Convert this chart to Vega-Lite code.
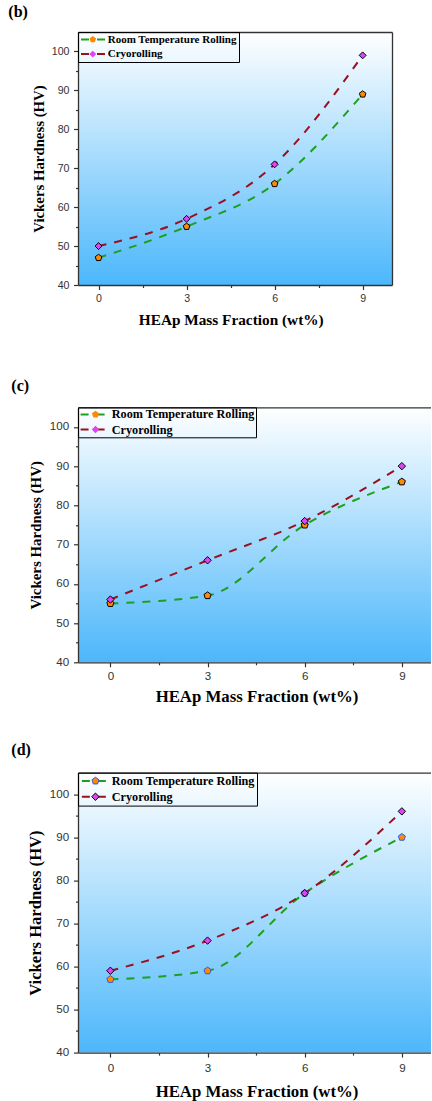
{
 "$schema": "https://vega.github.io/schema/vega-lite/v6.json",
 "background": "white",
 "padding": {"left": 8, "top": 3, "right": 0, "bottom": 2},
 "columns": 1,
 "spacing": 35.3,
 "resolve": {"scale": {"color": "independent", "fill": "independent", "shape": "independent", "stroke": "independent"}, "legend": {"color": "independent", "fill": "independent", "shape": "independent", "stroke": "independent"}},
 "config": {
  "view": {"stroke": null, "fill": {"gradient": "linear", "x1": 0, "y1": 0, "x2": 0, "y2": 1, "stops": [{"offset": 0, "color": "#ffffff"}, {"offset": 1, "color": "#4cb7fb"}]}},
  "axis": {"grid": false, "domainColor": "#333333", "domainWidth": 1.3, "tickColor": "#333333", "tickWidth": 1.2, "labelColor": "#333333", "labelFont": "Liberation Sans", "titleFont": "Liberation Serif", "titleFontWeight": "bold", "titleColor": "black", "labelOverlap": false, "labelFlush": false},
  "legend": {"labelFont": "Liberation Serif", "labelFontWeight": "bold", "labelColor": "black", "labelLimit": 400},
  "title": {"font": "Liberation Serif", "fontWeight": "bold", "color": "black", "fontSize": 16, "anchor": "start", "frame": "group"}
 },
 "concat": [
  {
   "width": 314, "height": 253,
   "title": {"text": "(b)", "dx": -69.7, "offset": 12},
   "data": {"values": [
    {"x": 0, "hv": 47, "series": "Room Temperature Rolling"},
    {"x": 3, "hv": 55, "series": "Room Temperature Rolling"},
    {"x": 6, "hv": 66, "series": "Room Temperature Rolling"},
    {"x": 9, "hv": 89, "series": "Room Temperature Rolling"},
    {"x": 0, "hv": 50, "series": "Cryorolling"},
    {"x": 3, "hv": 57, "series": "Cryorolling"},
    {"x": 6, "hv": 71, "series": "Cryorolling"},
    {"x": 9, "hv": 99, "series": "Cryorolling"}
   ]},
   "resolve": {"axis": {"x": "independent", "y": "independent"}},
   "layer": [
    {
     "mark": {"type": "line", "interpolate": "monotone", "strokeWidth": 2, "strokeDash": [8, 8]},
     "encoding": {
      "x": {"field": "x", "type": "quantitative", "scale": {"domain": [-0.7, 10], "nice": false, "zero": false},
       "axis": {"values": [0, 1.5, 3, 4.5, 6, 7.5, 9], "labelExpr": "datum.value % 3 === 0 ? datum.label : ''", "tickSize": {"condition": {"test": "datum.value % 3 !== 0", "value": 2.5}, "value": 4.5}, "labelFontSize": 10.6, "labelPadding": 4.2, "title": "HEAp Mass Fraction (wt%)", "titleFontSize": 15.3, "titlePadding": 8.4, "titleX": 152.7}},
      "y": {"field": "hv", "type": "quantitative", "scale": {"domain": [40, 105], "nice": false, "zero": false},
       "axis": {"values": [40, 45, 50, 55, 60, 65, 70, 75, 80, 85, 90, 95, 100], "labelExpr": "datum.value % 10 === 0 ? datum.label : ''", "tickSize": {"condition": {"test": "datum.value % 10 !== 0", "value": 2.5}, "value": 4.5}, "labelFontSize": 10.6, "labelPadding": 4.5, "title": "Vickers Hardness (HV)", "titleFontSize": 14.8, "titlePadding": 5}},
      "color": {"field": "series", "type": "nominal", "scale": {"domain": ["Room Temperature Rolling", "Cryorolling"], "range": ["#1ea01e", "#9a1020"]},
       "legend": {"orient": "none", "legendX": 0, "legendY": 0, "title": null, "symbolType": "M-1,0H4.6", "symbolSize": 81, "symbolStrokeWidth": 2, "symbolDash": [8, 8], "labelFontSize": 11, "padding": 2, "rowPadding": 2.6, "labelOffset": 16.7, "strokeColor": "black"}}
     }
    },
    {
     "mark": {"type": "point", "filled": true, "opacity": 1, "size": 48, "stroke": "black", "strokeWidth": 1},
     "encoding": {
      "x": {"field": "x", "type": "quantitative", "axis": {"orient": "top", "labels": false, "ticks": false, "title": null}},
      "y": {"field": "hv", "type": "quantitative", "axis": {"orient": "right", "labels": false, "ticks": false, "title": null}},
      "fill": {"field": "series", "type": "nominal", "sort": "descending", "scale": {"range": ["#ff8a00", "#dd44f5"]}, "legend": null},
      "shape": {"field": "series", "type": "nominal", "sort": "descending", "scale": {"range": ["M0,-1L0.951,-0.309L0.588,0.809L-0.588,0.809L-0.951,-0.309Z", "diamond"]},
       "legend": {"orient": "none", "legendX": 7.3, "legendY": 0, "title": null, "symbolSize": 48, "symbolStrokeColor": "black", "symbolStrokeWidth": 1, "labelExpr": "''", "labelFontSize": 11, "padding": 2, "rowPadding": 2.6,
        "encode": {"symbols": {"update": {"fill": {"signal": "datum.value === 'Cryorolling' ? '#dd44f5' : '#ff8a00'"}, "stroke": {"value": "black"}, "strokeWidth": {"value": 1}, "opacity": {"value": 1}, "size": {"value": 48}}}}}}
     }
    }
   ]
  },
  {
   "width": 353, "height": 255,
   "title": {"text": ["", "(c)"], "lineHeight": 14.2, "dx": -66.7, "offset": 13},
   "data": {"values": [
    {"x": 0, "hv": 55, "series": "Room Temperature Rolling"},
    {"x": 3, "hv": 57, "series": "Room Temperature Rolling"},
    {"x": 6, "hv": 75, "series": "Room Temperature Rolling"},
    {"x": 9, "hv": 86, "series": "Room Temperature Rolling"},
    {"x": 0, "hv": 56, "series": "Cryorolling"},
    {"x": 3, "hv": 66, "series": "Cryorolling"},
    {"x": 6, "hv": 76, "series": "Cryorolling"},
    {"x": 9, "hv": 90, "series": "Cryorolling"}
   ]},
   "resolve": {"axis": {"x": "independent", "y": "independent"}},
   "layer": [
    {
     "mark": {"type": "line", "interpolate": "monotone", "strokeWidth": 2, "strokeDash": [8, 8]},
     "encoding": {
      "x": {"field": "x", "type": "quantitative", "scale": {"domain": [-1, 9.9], "nice": false, "zero": false},
       "axis": {"values": [0, 1.5, 3, 4.5, 6, 7.5, 9], "labelExpr": "datum.value % 3 === 0 ? datum.label : ''", "tickSize": {"condition": {"test": "datum.value % 3 !== 0", "value": 2.5}, "value": 4.5}, "labelFontSize": 11.6, "labelPadding": 3.2, "title": "HEAp Mass Fraction (wt%)", "titleFontSize": 16.8, "titlePadding": 6.7, "titleX": 178.5}},
      "y": {"field": "hv", "type": "quantitative", "scale": {"domain": [40, 105], "nice": false, "zero": false},
       "axis": {"values": [40, 45, 50, 55, 60, 65, 70, 75, 80, 85, 90, 95, 100], "labelExpr": "datum.value % 10 === 0 ? datum.label : ''", "tickSize": {"condition": {"test": "datum.value % 10 !== 0", "value": 2.5}, "value": 4.5}, "labelFontSize": 11.6, "labelPadding": 4.9, "title": "Vickers Hardness (HV)", "titleFontSize": 14.9, "titlePadding": 5.5}},
      "color": {"field": "series", "type": "nominal", "scale": {"domain": ["Room Temperature Rolling", "Cryorolling"], "range": ["#1ea01e", "#9a1020"]},
       "legend": {"orient": "none", "legendX": 0, "legendY": 0, "title": null, "symbolType": "M-1,0H5", "symbolSize": 81, "symbolStrokeWidth": 2, "symbolDash": [8, 8], "labelFontSize": 12.2, "padding": 1, "rowPadding": 2.1, "labelOffset": 20.6, "strokeColor": "black"}}
     }
    },
    {
     "mark": {"type": "point", "filled": true, "opacity": 1, "size": 55, "stroke": "black", "strokeWidth": 1},
     "encoding": {
      "x": {"field": "x", "type": "quantitative", "axis": {"orient": "top", "labels": false, "ticks": false, "title": null}},
      "y": {"field": "hv", "type": "quantitative", "axis": null},
      "fill": {"field": "series", "type": "nominal", "sort": "descending", "scale": {"range": ["#ff8a00", "#dd44f5"]}, "legend": null},
      "shape": {"field": "series", "type": "nominal", "sort": "descending", "scale": {"range": ["M0,-1L0.951,-0.309L0.588,0.809L-0.588,0.809L-0.951,-0.309Z", "diamond"]},
       "legend": {"orient": "none", "legendX": 10.4, "legendY": 0, "title": null, "symbolSize": 55, "symbolStrokeColor": "black", "symbolStrokeWidth": 1, "labelExpr": "''", "labelFontSize": 12.2, "padding": 1, "rowPadding": 2.1,
        "encode": {"symbols": {"update": {"fill": {"signal": "datum.value === 'Cryorolling' ? '#dd44f5' : '#ff8a00'"}, "stroke": {"value": "black"}, "strokeWidth": {"value": 1}, "opacity": {"value": 1}, "size": {"value": 55}}}}}}
     }
    }
   ]
  },
  {
   "width": 353, "height": 280,
   "title": {"text": "(d)", "dx": -66.7, "offset": 14.6},
   "data": {"values": [
    {"x": 0, "hv": 57, "series": "Room Temperature Rolling"},
    {"x": 3, "hv": 59, "series": "Room Temperature Rolling"},
    {"x": 6, "hv": 77, "series": "Room Temperature Rolling"},
    {"x": 9, "hv": 90, "series": "Room Temperature Rolling"},
    {"x": 0, "hv": 59, "series": "Cryorolling"},
    {"x": 3, "hv": 66, "series": "Cryorolling"},
    {"x": 6, "hv": 77, "series": "Cryorolling"},
    {"x": 9, "hv": 96, "series": "Cryorolling"}
   ]},
   "resolve": {"axis": {"x": "independent", "y": "independent"}},
   "layer": [
    {
     "mark": {"type": "line", "interpolate": "monotone", "strokeWidth": 2, "strokeDash": [8, 8]},
     "encoding": {
      "x": {"field": "x", "type": "quantitative", "scale": {"domain": [-1, 9.9], "nice": false, "zero": false},
       "axis": {"values": [0, 1.5, 3, 4.5, 6, 7.5, 9], "labelExpr": "datum.value % 3 === 0 ? datum.label : ''", "tickSize": {"condition": {"test": "datum.value % 3 !== 0", "value": 2.5}, "value": 4.5}, "labelFontSize": 11.6, "labelPadding": 5.4, "title": "HEAp Mass Fraction (wt%)", "titleFontSize": 16.8, "titlePadding": 9.2, "titleX": 178.5}},
      "y": {"field": "hv", "type": "quantitative", "scale": {"domain": [40, 105], "nice": false, "zero": false},
       "axis": {"values": [40, 45, 50, 55, 60, 65, 70, 75, 80, 85, 90, 95, 100], "labelExpr": "datum.value % 10 === 0 ? datum.label : ''", "tickSize": {"condition": {"test": "datum.value % 10 !== 0", "value": 2.5}, "value": 4.5}, "labelFontSize": 11.6, "labelPadding": 4.9, "title": "Vickers Hardness (HV)", "titleFontSize": 16.6, "titlePadding": 5.5}},
      "color": {"field": "series", "type": "nominal", "scale": {"domain": ["Room Temperature Rolling", "Cryorolling"], "range": ["#1ea01e", "#9a1020"]},
       "legend": {"orient": "none", "legendX": 0, "legendY": 0, "title": null, "symbolType": "M-1,0H4.9", "symbolSize": 81, "symbolStrokeWidth": 2, "symbolDash": [8, 8], "labelFontSize": 12.2, "padding": 2.25, "rowPadding": 2.8, "labelOffset": 19.35, "strokeColor": "black"}}
     }
    },
    {
     "mark": {"type": "point", "filled": true, "opacity": 1, "size": 55, "strokeWidth": 1},
     "encoding": {
      "x": {"field": "x", "type": "quantitative", "axis": {"orient": "top", "labels": false, "ticks": false, "title": null}},
      "y": {"field": "hv", "type": "quantitative", "axis": null},
      "fill": {"field": "series", "type": "nominal", "sort": "descending", "scale": {"range": ["#ff8a00", "#dd44f5"]}, "legend": null},
      "shape": {"field": "series", "type": "nominal", "sort": "descending", "scale": {"range": ["M0,-1L0.951,-0.309L0.588,0.809L-0.588,0.809L-0.951,-0.309Z", "diamond"]},
       "legend": {"orient": "none", "legendX": 9.1, "legendY": 0, "title": null, "symbolSize": 55, "symbolStrokeWidth": 1, "labelExpr": "''", "labelFontSize": 12.2, "padding": 2.25, "rowPadding": 2.8,
        "encode": {"symbols": {"update": {"fill": {"signal": "datum.value === 'Cryorolling' ? '#dd44f5' : '#ff8a00'"}, "stroke": {"signal": "datum.value === 'Cryorolling' ? 'black' : '#2f5ae8'"}, "strokeWidth": {"value": 1}, "opacity": {"value": 1}, "size": {"value": 55}}}}}},
      "stroke": {"field": "series", "type": "nominal", "sort": "descending", "scale": {"range": ["#2f5ae8", "black"]}, "legend": null}
     }
    }
   ]
  }
 ]
}
